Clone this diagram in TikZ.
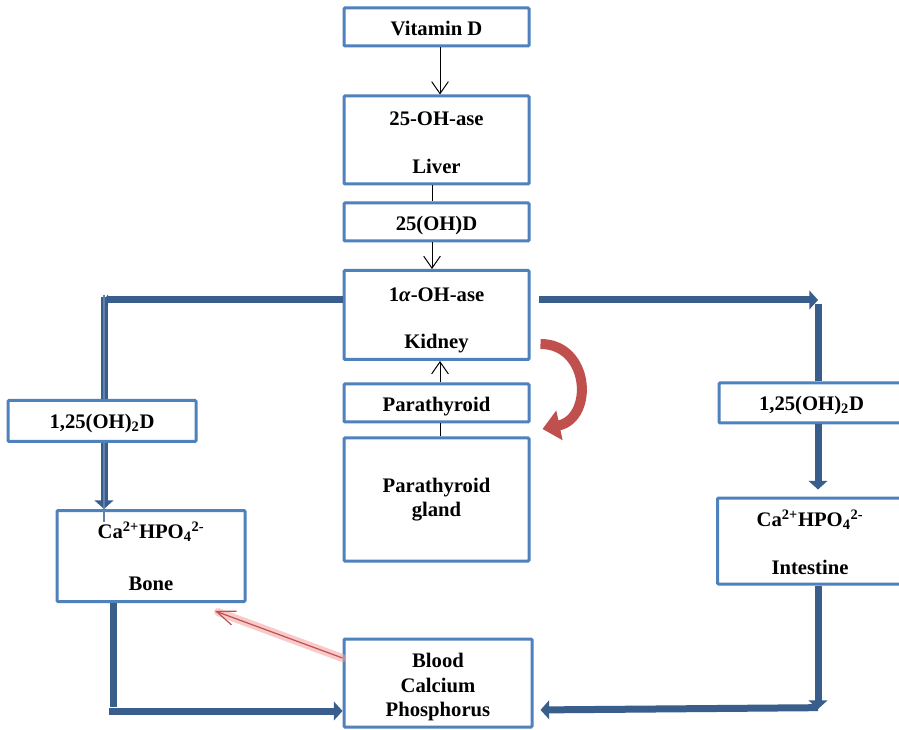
\documentclass[tikz,border=0pt]{standalone}
\usepackage{fontspec}
\setmainfont{Liberation Serif}
\usetikzlibrary{arrows.meta}
\newdimen\pxu \pxu=0.75pt
\newcommand\topstrut[1]{\rule{0pt}{#1}}
\definecolor{boxblue}{RGB}{79,129,189}
\definecolor{lineblue}{RGB}{58,94,140}
\definecolor{lineblueL}{RGB}{95,130,175}
\definecolor{redarr}{RGB}{192,80,77}
\definecolor{redglow}{RGB}{245,160,160}
\tikzset{
  box/.style={draw=boxblue, line width=3\pxu, fill=white, rounded corners=1\pxu,
    align=center, inner sep=0pt, minimum width=185\pxu,
    font=\fontsize{15.5}{18.5}\selectfont\bfseries},
  thinarrow/.style={draw=black, line width=1\pxu, -{Straight Barb[length=9pt,width=12.5pt]}},
  thinline/.style={draw=black, line width=1\pxu},
  bigline/.style={draw=lineblue, line width=7\pxu},
  bigarrow/.style={bigline, -{Triangle[length=6.5pt,width=14pt]}},
  smallarrow/.style={bigline, -{Triangle[length=3pt,width=8pt]}},
  glowline/.style={draw=redglow, line width=8\pxu, opacity=0.55, line cap=round},
  redthin/.style={draw=redarr, line width=1.2\pxu, -{Straight Barb[length=14pt,width=11pt]}},
  curvearrow/.style={draw=redarr, line width=10\pxu, -{Triangle[length=13pt,width=22pt]}},
}
\begin{document}
\begin{tikzpicture}[x=0.75pt,y=-0.75pt]
\useasboundingbox (0,0) rectangle (899,730);
\clip (0,0) rectangle (899,730);
\fill[white] (0,0) rectangle (899,730);

% nodes
\node[box, minimum height=38\pxu] (vit) at (436.5,27) {\topstrut{13pt}Vitamin D};
\node[box, minimum height=88\pxu] (liv) at (436.5,140) {\topstrut{15pt}25-OH-ase\\[17.5pt]Liver};
\node[box, minimum height=38\pxu] (ohd) at (436.5,222) {\topstrut{15.5pt}25(OH)D};
\node[box, minimum height=89\pxu] (kid) at (436.5,315) {\topstrut{18pt}1\textit{α}-OH-ase\\[17pt]Kidney};
\node[box, minimum height=38\pxu] (par) at (436.5,403) {\topstrut{16.5pt}Parathyroid};
\node[box, minimum height=123\pxu] (gland) at (436.5,499.5) {Parathyroid\\gland};
\node[box, minimum width=188\pxu, minimum height=41\pxu] (l125) at (102,421) {\topstrut{14pt}1,25(OH)\textsubscript{2}D};
\node[box, minimum width=188\pxu, minimum height=91\pxu] (bone) at (151,556) {Ca\textsuperscript{2+}HPO\textsubscript{4}\textsuperscript{2-}\\[20.5pt]Bone};
\node[box, minimum height=40\pxu] (r125) at (811.5,403) {\topstrut{14pt}1,25(OH)\textsubscript{2}D};
\node[box, minimum height=86\pxu] (rint) at (810,541) {\topstrut{15pt}Ca\textsuperscript{2+}HPO\textsubscript{4}\textsuperscript{2-}\\[17.5pt]Intestine};
\node[box, minimum width=188\pxu, minimum height=88\pxu] (blood) at (438,683) {\topstrut{17pt}Blood\\Calcium\\Phosphorus};

% thin black connectors
\draw[thinarrow] (vit.south -| 440,0) -- (liv.north -| 440,0);
\draw[thinline] (liv.south -| 432,0) -- (ohd.north -| 432,0);
\draw[thinarrow] (ohd.south -| 432,0) -- (kid.north -| 432,0);
\draw[thinarrow] (par.north -| 440,0) -- (kid.south -| 440,0);
\draw[thinline] (gland.north -| 440,0) -- (par.south -| 440,0);

% coordinates for elbows
\coordinate (tl) at (104,300);
\coordinate (tr) at (818,300);
\coordinate (bl) at (113,711);
\coordinate (br) at (818,709);
\coordinate (redend) at (215,611);

% left branch
\draw[smallarrow] (kid.west |- tl) -- (tl);
\draw[bigline] ([yshift=2]tl) -- (tl |- l125.north);
\draw[draw=lineblueL, line width=1.5\pxu] ([yshift=4]tl) -- (tl |- l125.north);
\draw[bigarrow] (tl |- l125.south) -- (tl |- bone.north);
\draw[draw=lineblueL, line width=1.5\pxu] (tl |- l125.south) -- ([yshift=-10]tl |- bone.north);

% right branch
\draw[bigarrow, shorten <=8\pxu] (kid.east |- tr) -- (tr);
\draw[bigline] ([yshift=-3]tr) -- (tr |- r125.north);
\draw[bigarrow, shorten >=7\pxu] (tr |- r125.south) -- (tr |- rint.north);
\draw[bigarrow] (tr |- rint.south) -- (br);
\draw[bigarrow, shorten >=7\pxu] ([yshift=1]br) -- (blood.east |- 0,710);

% bottom left
\draw[bigline] (bone.south -| bl) -- ([yshift=3]bl);
\draw[bigarrow] ([xshift=-3]bl) -- (blood.west |- bl);

% red thin glowing arrow
\draw[glowline] (blood.west |- 0,658) -- ([shift={(3,1)}]redend);
\draw[redthin] (blood.west |- 0,658) -- (redend);

% red curved arrow
\draw[curvearrow] ([xshift=10\pxu]kid.east |- 0,344) .. controls (590,344) and (594,418) .. ([xshift=12\pxu]par.east |- 0,429);
\end{tikzpicture}
\end{document}
